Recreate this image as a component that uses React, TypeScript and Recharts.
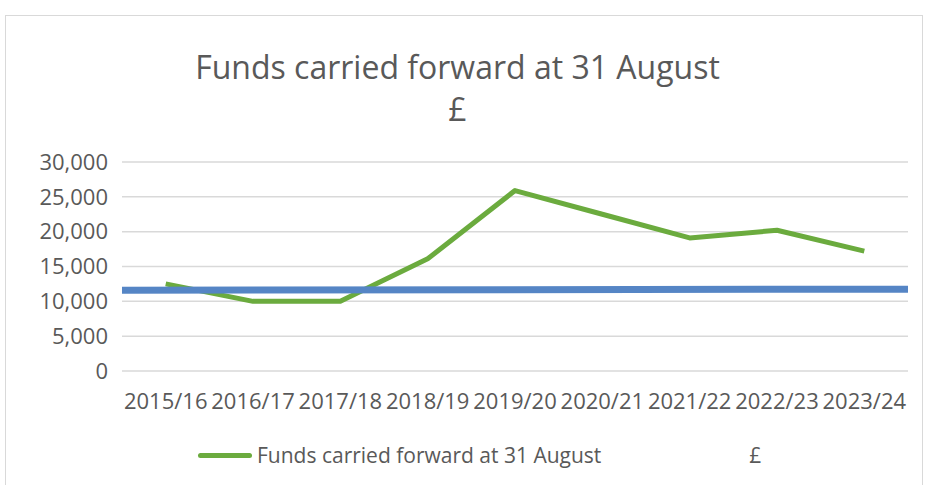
import { LineChart, Line, XAxis, YAxis, CartesianGrid } from "recharts";

const YEARS = [
  "2015/16",
  "2016/17",
  "2017/18",
  "2018/19",
  "2019/20",
  "2020/21",
  "2021/22",
  "2022/23",
  "2023/24",
];
const FUNDS = [12500, 10000, 10000, 16100, 25900, 22500, 19100, 20200, 17200];
// the flat "£" series runs edge to edge of the plot
const POUND_POS = [0, 1];
const POUND_VALUES = [11600, 11750];
const Y_TICKS = [0, 5000, 10000, 15000, 20000, 25000, 30000];

const FUNDS_NAME = "Funds carried forward at 31 August";
const POUND_NAME = "£";

const GREEN = "#6bab3e";
const BLUE = "#5585c5";
const TEXT = "#595959";
const FONT = "'Open Sans', sans-serif";

const data = YEARS.map((year, i) => ({ year, funds: FUNDS[i] }));
const poundData = POUND_POS.map((pos, i) => ({ pos, value: POUND_VALUES[i] }));

function ChartLegend() {
  return (
    <div
      style={{
        position: "absolute",
        left: 198,
        top: 441,
        display: "flex",
        alignItems: "center",
        fontFamily: FONT,
        fontSize: 21,
        color: TEXT,
        whiteSpace: "nowrap",
      }}
    >
      <span
        style={{
          display: "inline-block",
          width: 54,
          height: 5,
          borderRadius: 3,
          background: GREEN,
          marginRight: 5,
        }}
      />
      <span>{FUNDS_NAME}</span>
      <span style={{ marginLeft: 148 }}>{POUND_NAME}</span>
    </div>
  );
}

export default function App() {
  return (
    <div
      style={{
        position: "absolute",
        left: 0,
        top: 0,
        width: 925,
        height: 485,
        background: "#fff",
        overflow: "hidden",
      }}
    >
      <div
        style={{
          position: "absolute",
          left: 5,
          top: 15,
          width: 916,
          height: 480,
          border: "1px solid #d9d9d9",
        }}
      />
      <div
        style={{
          position: "absolute",
          left: 0,
          width: 915,
          top: 46,
          textAlign: "center",
          fontFamily: FONT,
          fontSize: 32,
          color: TEXT,
          lineHeight: "42px",
        }}
      >
        Funds carried forward at 31 August
        <br />£
      </div>
      <LineChart
        width={925}
        height={485}
        data={data}
        margin={{ top: 162, right: 17, bottom: 74, left: 0 }}
        style={{ position: "absolute", left: 0, top: 0 }}
      >
        <CartesianGrid vertical={false} stroke="#d9d9d9" strokeWidth={1.5} />
        <XAxis
          dataKey="year"
          axisLine={false}
          tickLine={false}
          tickSize={0}
          tickMargin={22}
          height={40}
          interval={0}
          padding={{ left: 43.7, right: 43.7 }}
          tick={{ fill: TEXT, fontSize: 22, fontFamily: FONT }}
        />
        <XAxis xAxisId="flat" type="number" dataKey="pos" domain={[0, 1]} hide />
        <YAxis
          width={122}
          domain={[0, 30000]}
          ticks={Y_TICKS}
          axisLine={false}
          tickLine={false}
          tickSize={0}
          tickMargin={14}
          tickFormatter={(v) => Number(v).toLocaleString("en-GB")}
          tick={{ fill: TEXT, fontSize: 22, fontFamily: FONT }}
        />
        <Line
          dataKey="funds"
          name={FUNDS_NAME}
          stroke={GREEN}
          strokeWidth={5}
          dot={false}
          activeDot={false}
          strokeLinejoin="round"
          isAnimationActive={false}
        />
        <Line
          xAxisId="flat"
          data={poundData}
          dataKey="value"
          name={POUND_NAME}
          stroke={BLUE}
          strokeWidth={7}
          dot={false}
          activeDot={false}
          isAnimationActive={false}
        />
      </LineChart>
      <ChartLegend />
    </div>
  );
}
